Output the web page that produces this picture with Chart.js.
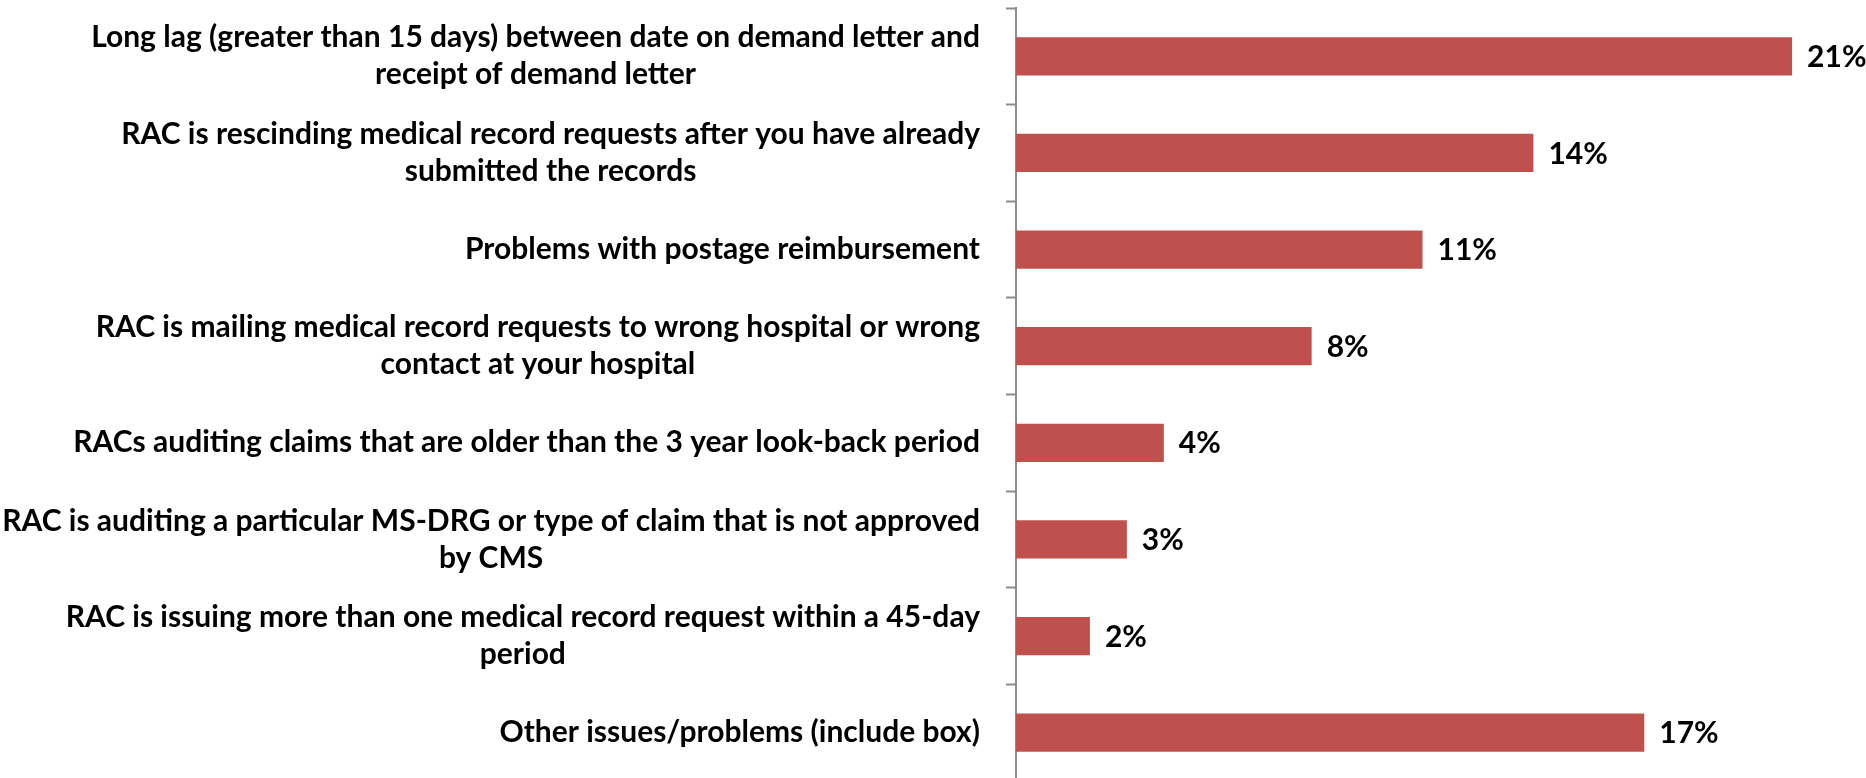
<!DOCTYPE html>
<html>
<head>
<meta charset="utf-8">
<script src="https://cdn.jsdelivr.net/npm/chart.js@4.4.1/dist/chart.umd.min.js"></script>
<style>
  html, body { margin: 0; padding: 0; background: #fff; }
  #wrap { width: 1866px; height: 778px; overflow: hidden; }
</style>
</head>
<body>
<div id="wrap"><canvas id="chart1" width="1866" height="790"></canvas></div>
<script>
// survey answers, one entry per bar (top to bottom)
var categories = [
  ["Long lag (greater than 15 days) between date on demand letter and", "receipt of demand letter"],
  ["RAC is rescinding medical record requests after you have already", "submitted the records"],
  ["Problems with postage reimbursement"],
  ["RAC is mailing medical record requests to wrong hospital or wrong", "contact at your hospital"],
  ["RACs auditing claims that are older than the 3 year look-back period"],
  ["RAC is auditing a particular MS-DRG or type of claim that is not approved", "by CMS"],
  ["RAC is issuing more than one medical record request within a 45-day", "period"],
  ["Other issues/problems (include box)"]
];
var percents = [21, 14, 11, 8, 4, 3, 2, 17];
var xMax = 23;

var FONT = "bold 30px Lato, 'Liberation Sans', sans-serif";
var LINE_H = 37;

// category text: each block right aligned against the axis, its lines centred in the block
var categoryText = {
  id: 'categoryText',
  afterDraw: function (chart) {
    var ctx = chart.ctx;
    var y = chart.scales.y;
    var right = y.right - 36;
    ctx.save();
    ctx.font = FONT;
    ctx.fillStyle = "#000";
    ctx.textAlign = "center";
    ctx.textBaseline = "middle";
    categories.forEach(function (lines, i) {
      var widest = 0;
      lines.forEach(function (l) { widest = Math.max(widest, ctx.measureText(l).width); });
      var cx = right - widest / 2;
      var cy = y.getPixelForValue(i) - (lines.length - 1) * LINE_H / 2;
      lines.forEach(function (l, k) { ctx.fillText(l, cx, cy + k * LINE_H); });
    });
    ctx.restore();
  }
};

// value labels at the end of each bar
var valueText = {
  id: 'valueText',
  afterDatasetsDraw: function (chart) {
    var ctx = chart.ctx;
    var meta = chart.getDatasetMeta(0);
    ctx.save();
    ctx.font = FONT;
    ctx.fillStyle = "#000";
    ctx.textAlign = "left";
    ctx.textBaseline = "middle";
    meta.data.forEach(function (bar, i) {
      ctx.fillText(percents[i] + "%", bar.x + 15, bar.y + 1);
    });
    ctx.restore();
  }
};

var options = {
  responsive: false,
  animation: false,
  indexAxis: 'y',
  layout: { padding: { top: 8, bottom: 9, left: 0, right: 0 } },
  plugins: { legend: { display: false }, tooltip: { enabled: false } },
  scales: {
    x: {
      display: false,
      min: 0,
      max: xMax
    },
    y: {
      afterFit: function (s) { s.width = 1016; },
      ticks: { display: false },
      grid: {
        offset: true,
        drawOnChartArea: false,
        drawTicks: true,
        tickLength: 10,
        tickWidth: 2,
        tickColor: "#8c8c8c"
      },
      border: { display: true, color: "#8c8c8c", width: 2 }
    }
  }
};

new Chart(document.getElementById("chart1"), {
  type: 'bar',
  data: {
    labels: categories,
    datasets: [{
      data: percents,
      backgroundColor: "#C0504D",
      borderWidth: 0,
      barPercentage: 0.395,
      categoryPercentage: 1
    }]
  },
  options: options,
  plugins: [categoryText, valueText]
});
</script>
</body>
</html>
